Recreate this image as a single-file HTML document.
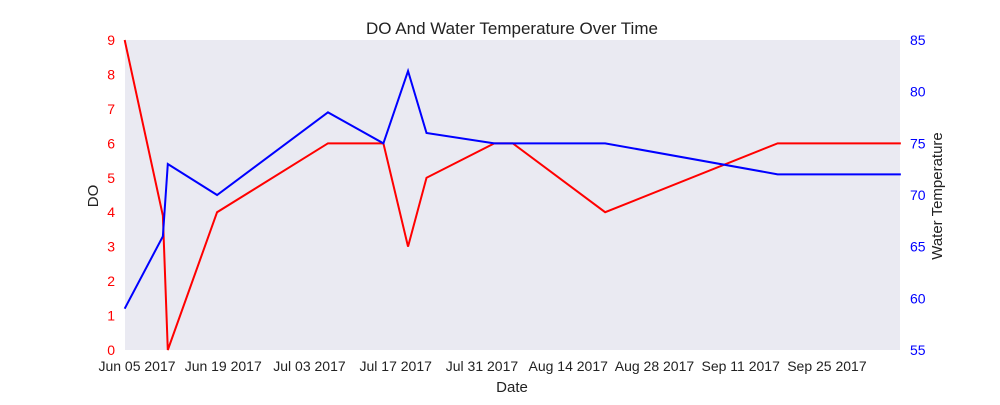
<!DOCTYPE html>
<html><head><meta charset="utf-8"><style>
body{margin:0;background:#fff;}
svg{font-family:"Liberation Sans",sans-serif;}
</style></head><body>
<svg id="chart" width="1000" height="400">
<rect x="125" y="40" width="775" height="310" fill="#eaeaf2"/>
<text x="512" y="34" font-size="17" text-anchor="middle" fill="#222">DO And Water Temperature Over Time</text>
<text x="512" y="392" font-size="15" text-anchor="middle" fill="#222">Date</text>
<text x="98" y="196" font-size="15" text-anchor="middle" fill="#222" transform="rotate(-90 98 196)">DO</text>
<text x="942" y="196" font-size="15" text-anchor="middle" fill="#222" transform="rotate(-90 942 196)">Water Temperature</text>
<g id="ticks"></g>
<g id="lines"></g>
</svg>
<script>
const xTickLabels = ["Jun 05 2017","Jun 19 2017","Jul 03 2017","Jul 17 2017","Jul 31 2017","Aug 14 2017","Aug 28 2017","Sep 11 2017","Sep 25 2017"];
const xTickDays = [0,14,28,42,56,70,84,98,112];
const leftTicks = [0,1,2,3,4,5,6,7,8,9];
const rightTicks = [55,60,65,70,75,80,85];
const dates = [-2,4.2,5,13,31,40,44,47,58,61,76,104,124];
const doValues = [9,3.9,0,4,6,6,3,5,6,6,4,6,6];
const tempValues = [59,66,73,70,78,75,82,76,75,75,75,72,72];

const NS="http://www.w3.org/2000/svg";
const xS = d => 137 + d*6.16;
const yL = v => 350 - v*(310/9);
const yR = v => 350 - (v-55)*(310/30);
const ticks=document.getElementById('ticks');
function txt(x,y,s,anchor,fill,size){
  const t=document.createElementNS(NS,'text');
  t.setAttribute('x',x);t.setAttribute('y',y);t.setAttribute('text-anchor',anchor);
  t.setAttribute('fill',fill);t.setAttribute('font-size',size);t.textContent=s;
  ticks.appendChild(t);return t;
}
xTickLabels.forEach((l,i)=>{
  const t=txt(xS(xTickDays[i]),371,l,'middle','#222',14);
  
  
});
leftTicks.forEach(v=>{
  const t=txt(115,yL(v)+5,String(v),'end','red',14);
  
  
});
rightTicks.forEach(v=>{
  const t=txt(910,yR(v)+5,String(v),'start','blue',14);
  
  
});
const lines=document.getElementById('lines');
function line(vals,ys,color,name){
  const p=document.createElementNS(NS,'polyline');
  p.setAttribute('points',dates.map((d,i)=>xS(d)+','+ys(vals[i])).join(' '));
  p.setAttribute('fill','none');p.setAttribute('stroke',color);p.setAttribute('stroke-width','2');
  
  
  lines.appendChild(p);
}
line(doValues,yL,'red','do-line');
line(tempValues,yR,'blue','water-temperature-line');
</script>
</body></html>
